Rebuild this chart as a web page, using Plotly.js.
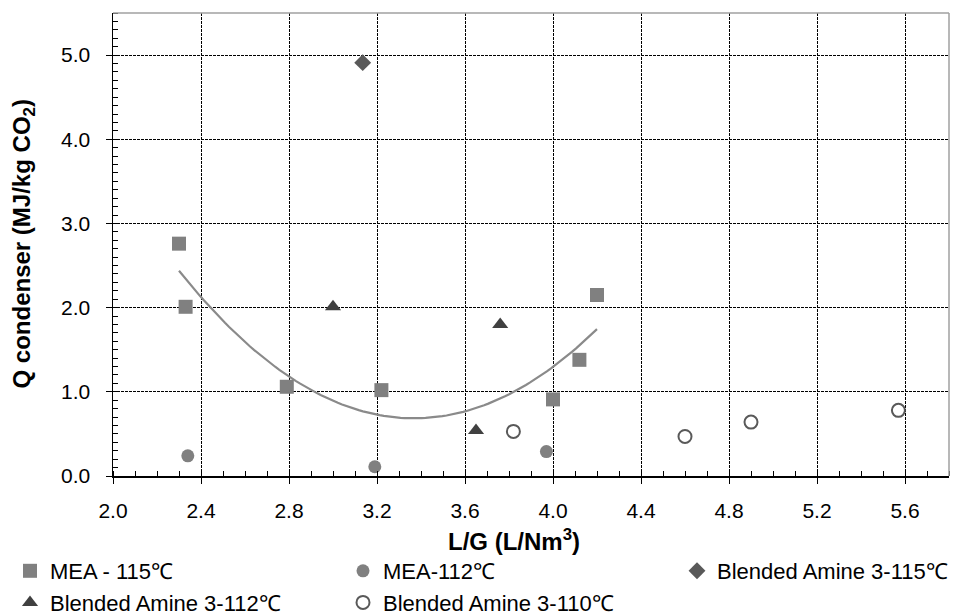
<!DOCTYPE html>
<html>
<head>
<meta charset="utf-8">
<script src="https://cdn.plot.ly/plotly-3.0.1.min.js"></script>
<style>
  html, body { margin: 0; padding: 0; background: #fff; }
  #chart { width: 955px; height: 616px; }
</style>
</head>
<body>
<div id="chart"></div>
<script>
// L/G (L/Nm3) and condenser duty (MJ/kg CO2) for each solvent run
const mea115_x = [2.30, 2.33, 2.79, 3.22, 4.00, 4.12, 4.20];
const mea115_y = [2.76, 2.01, 1.06, 1.02, 0.91, 1.38, 2.15];

const mea112_x = [2.34, 3.19, 3.97];
const mea112_y = [0.24, 0.11, 0.29];

const ba115_x = [3.135];
const ba115_y = [4.91];

const ba112_x = [3.00, 3.76, 3.65];
const ba112_y = [2.01, 1.80, 0.54];

const ba110_x = [3.82, 4.60, 4.90, 5.57];
const ba110_y = [0.53, 0.47, 0.64, 0.78];

const seriesNames = [
  'MEA - 115\u2103',
  'MEA-112\u2103',
  'Blended Amine 3-115\u2103',
  'Blended Amine 3-112\u2103',
  'Blended Amine 3-110\u2103'
];

const xTitle = '<b>L/G (L/Nm<sup>3</sup>)</b>';
const yTitle = '<b>Q condenser (MJ/kg CO<sub>2</sub>)</b>';

// Second-order least-squares trend through the MEA - 115 runs
function quadFit(xs, ys) {
  let S = [0, 0, 0, 0, 0], T = [0, 0, 0];
  for (let i = 0; i < xs.length; i++) {
    let p = 1;
    for (let k = 0; k < 5; k++) { S[k] += p; if (k < 3) T[k] += p * ys[i]; p *= xs[i]; }
  }
  const M = [[S[0], S[1], S[2], T[0]], [S[1], S[2], S[3], T[1]], [S[2], S[3], S[4], T[2]]];
  for (let c = 0; c < 3; c++) {
    for (let r = c + 1; r < 3; r++) {
      const f = M[r][c] / M[c][c];
      for (let k = c; k < 4; k++) M[r][k] -= f * M[c][k];
    }
  }
  const coef = [0, 0, 0];
  for (let r = 2; r >= 0; r--) {
    let s = M[r][3];
    for (let k = r + 1; k < 3; k++) s -= M[r][k] * coef[k];
    coef[r] = s / M[r][r];
  }
  return coef;
}
const coef = quadFit(mea115_x, mea115_y);
const xMin = Math.min(...mea115_x), xMax = Math.max(...mea115_x);
const trend_x = [], trend_y = [];
for (let i = 0; i <= 100; i++) {
  const x = xMin + (xMax - xMin) * i / 100;
  trend_x.push(x);
  trend_y.push(coef[0] + coef[1] * x + coef[2] * x * x);
}

const FONT = 'Liberation Sans, Arial, sans-serif';
const W = 955, H = 616;
const M = { l: 113, r: 6, t: 13, b: 140 };
const plotW = W - M.l - M.r, plotH = H - M.t - M.b;

// legend laid out in three columns: (MEA-115, BA-112), (MEA-112, BA-110), (BA-115)
const traces = [
  { x: trend_x, y: trend_y, mode: 'lines', showlegend: false, hoverinfo: 'skip',
    line: { color: '#8a8a8a', width: 2.2 } },
  { x: mea115_x, y: mea115_y, mode: 'markers', name: seriesNames[0], legend: 'legend', legendgroup: 'a',
    marker: { symbol: 'square', size: 14, color: '#808080' } },
  { x: mea112_x, y: mea112_y, mode: 'markers', name: seriesNames[1], legend: 'legend2', legendgroup: 'b',
    marker: { symbol: 'circle', size: 13, color: '#808080' } },
  { x: ba115_x, y: ba115_y, mode: 'markers', name: seriesNames[2], legend: 'legend3', legendgroup: 'c',
    marker: { symbol: 'diamond', size: 13, color: '#595959' } },
  { x: ba112_x, y: ba112_y, mode: 'markers', name: seriesNames[3], legend: 'legend', legendgroup: 'd',
    marker: { symbol: 'triangle-up', size: 14, color: '#404040' } },
  { x: ba110_x, y: ba110_y, mode: 'markers', name: seriesNames[4], legend: 'legend2', legendgroup: 'e',
    marker: { symbol: 'circle-open', size: 13, color: '#595959', line: { width: 2, color: '#595959' } } }
];

function legendAt(px) {
  return {
    orientation: 'v', xref: 'container', yref: 'container',
    x: px / W, y: 1 - 550 / H, xanchor: 'left', yanchor: 'top',
    font: { family: FONT, size: 22, color: '#000' },
    itemwidth: 30, tracegroupgap: 5, bgcolor: 'rgba(0,0,0,0)', traceorder: 'normal'
  };
}

const axisCommon = {
  showline: true, linecolor: '#000', linewidth: 1.5,
  ticks: 'outside', ticklen: 6, tickcolor: '#000', tickwidth: 1,
  showgrid: true, gridcolor: '#000', gridwidth: 1, griddash: '3px,1px',
  zeroline: false,
  tickfont: { family: FONT, size: 21, color: '#000' },
  automargin: false
};

const layout = {
  width: W, height: H,
  margin: Object.assign({ autoexpand: false }, M),
  paper_bgcolor: '#ffffff', plot_bgcolor: '#ffffff',
  font: { family: FONT, size: 21, color: '#000' },
  showlegend: true,
  xaxis: Object.assign({}, axisCommon, {
    range: [2.0, 5.8], tick0: 2.0, dtick: 0.4, tickformat: '.1f',
    minor: { ticks: 'inside', dtick: 0.1, ticklen: 5, tickcolor: '#000', showgrid: false },
    ticklabelstandoff: 9
  }),
  yaxis: Object.assign({}, axisCommon, {
    range: [0, 5.5], tick0: 0, dtick: 1, tickformat: '.1f',
    minor: { ticks: 'inside', dtick: 0.1, ticklen: 5, tickcolor: '#000', showgrid: false },
    ticklabelstandoff: 11
  }),
  annotations: [
    { text: xTitle, xref: 'paper', yref: 'paper', showarrow: false,
      x: (514 - M.l) / plotW, y: -(540 - M.t - plotH) / plotH, xanchor: 'center', yanchor: 'middle',
      font: { family: FONT, size: 24, color: '#000' } },
    { text: yTitle, xref: 'paper', yref: 'paper', showarrow: false, textangle: -90,
      x: (23 - M.l) / plotW, y: 0.5, xanchor: 'center', yanchor: 'middle',
      font: { family: FONT, size: 24, color: '#000' } }
  ],
  shapes: [
    { type: 'line', xref: 'paper', yref: 'paper', x0: 0, x1: 1, y0: 1, y1: 1, line: { color: '#a0a0a0', width: 1.5 } },
    { type: 'line', xref: 'paper', yref: 'paper', x0: 1, x1: 1, y0: 0, y1: 1, line: { color: '#a0a0a0', width: 1.5 } }
  ],
  legend: legendAt(10),
  legend2: legendAt(343),
  legend3: legendAt(677)
};

Plotly.newPlot('chart', traces, layout, { displayModeBar: false, staticPlot: true });
</script>
</body>
</html>
